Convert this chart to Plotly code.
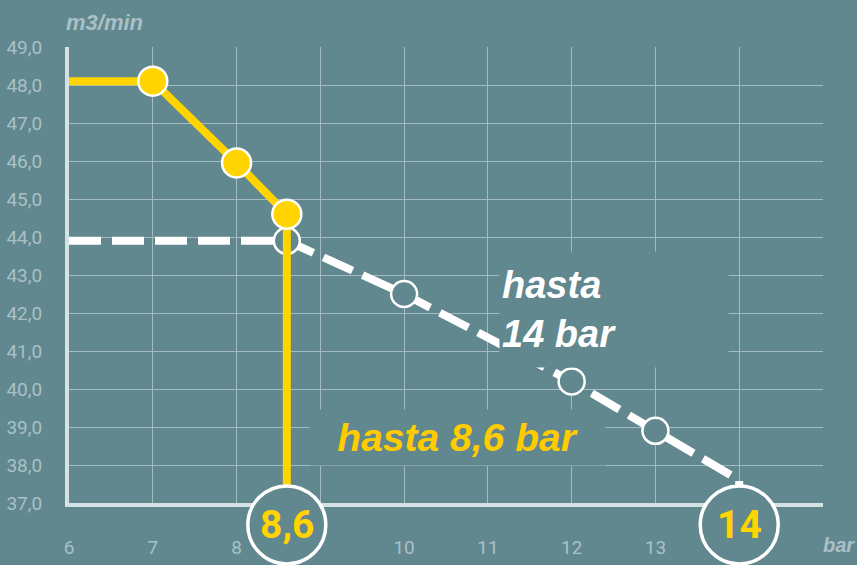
import plotly.graph_objects as go

# ---- data ----
pressure_86 = [6, 7, 8, 8.6, 8.6]
flow_86 = [48.1, 48.1, 45.95, 44.6, 37.0]

pressure_14 = [6, 8.6, 10, 12, 13, 14, 14]
flow_14 = [43.9, 43.9, 42.5, 40.2, 38.9, 37.6, 37.0]

max_pressures = [8.6, 14]
max_labels = ["8,6", "14"]

x_ticks = [6, 7, 8, 9, 10, 11, 12, 13, 14, 15]
x_tick_labels = ["6", "7", "8", "", "10", "11", "12", "13", "", ""]
y_ticks = [37, 38, 39, 40, 41, 42, 43, 44, 45, 46, 47, 48, 49]
y_tick_labels = ["37,0", "38,0", "39,0", "40,0", "41,0", "42,0", "43,0",
                 "44,0", "45,0", "46,0", "47,0", "48,0", "49,0"]

# ---- styles ----
BG = "#61878f"
YELLOW = "#ffd400"
YELLOW_TXT = "#ffcc00"
GRID = "#a3bcc1"
AXIS = "#d6e1e3"
LABEL = "#a9c1c6"
NARROW = "Roboto, Liberation Sans, sans-serif"
SANS = "Liberation Sans, Arial, sans-serif"
CIRCLE_Y_PAPER = -0.048   # vertical position of the big circles (below the axis)
CIRCLE_R = 39

fig = go.Figure()

# white dashed series (up to 14 bar)
fig.add_trace(go.Scatter(
    x=pressure_14, y=flow_14, mode="lines",
    line=dict(color="white", width=8, dash="32px,11px"),
    cliponaxis=False, hoverinfo="skip", showlegend=False))
fig.add_trace(go.Scatter(
    x=pressure_14[1:5], y=flow_14[1:5], mode="markers",
    marker=dict(size=26, color=BG, line=dict(color="white", width=2.5)),
    cliponaxis=False, hoverinfo="skip", showlegend=False))

# yellow series (up to 8,6 bar)
fig.add_trace(go.Scatter(
    x=pressure_86, y=flow_86, mode="lines",
    line=dict(color=YELLOW, width=8),
    cliponaxis=False, hoverinfo="skip", showlegend=False))
fig.add_trace(go.Scatter(
    x=pressure_86[1:4], y=flow_86[1:4], mode="markers",
    marker=dict(size=29, color=YELLOW, line=dict(color="white", width=2.5)),
    cliponaxis=False, hoverinfo="skip", showlegend=False))

# big circles marking the maximum pressures
shapes = [
    dict(type="circle", xref="x", yref="paper",
         xsizemode="pixel", ysizemode="pixel",
         xanchor=p, yanchor=CIRCLE_Y_PAPER,
         x0=-CIRCLE_R, x1=CIRCLE_R, y0=-CIRCLE_R, y1=CIRCLE_R,
         fillcolor=BG, line=dict(color="white", width=3.5), layer="above")
    for p in max_pressures
]
circle_texts = [
    dict(text=lab, xref="x", yref="paper", x=p, y=CIRCLE_Y_PAPER,
         xanchor="center", yanchor="middle", showarrow=False,
         font=dict(family=NARROW, size=39, color=YELLOW, weight="bold"))
    for p, lab in zip(max_pressures, max_labels)
]

fig.update_layout(
    width=857, height=565,
    paper_bgcolor=BG, plot_bgcolor=BG,
    margin=dict(l=69, r=34, t=47, b=62, autoexpand=False),
    showlegend=False,
    font=dict(family=NARROW, color=LABEL),
    xaxis=dict(
        range=[6, 15], tickmode="array", tickvals=x_ticks, ticktext=x_tick_labels,
        showgrid=True, gridcolor=GRID, gridwidth=1,
        showline=True, linecolor=AXIS, linewidth=4,
        zeroline=False, ticks="", ticklabelstandoff=24, automargin=False,
        tickfont=dict(family=NARROW, size=19, color=LABEL),
        layer="below traces", fixedrange=True),
    yaxis=dict(
        range=[37, 49], tickmode="array", tickvals=y_ticks, ticktext=y_tick_labels,
        showgrid=True, gridcolor=GRID, gridwidth=1,
        showline=True, linecolor=AXIS, linewidth=4,
        zeroline=False, ticks="", ticklabelstandoff=19, automargin=False,
        tickfont=dict(family=NARROW, size=19, color=LABEL),
        layer="below traces", fixedrange=True),
    shapes=shapes,
    annotations=[
        dict(text="m3/min", xref="paper", yref="paper", x=0, y=1,
             xanchor="left", yanchor="middle", xshift=-5, yshift=25,
             showarrow=False,
             font=dict(family=SANS, size=22, color=LABEL, weight="bold", style="italic")),
        dict(text="bar", xref="paper", yref="paper", x=1, y=0,
             xanchor="left", yanchor="middle", xshift=-2, yshift=-42,
             showarrow=False,
             font=dict(family=SANS, size=20, color=LABEL, weight="bold", style="italic")),
        dict(text="hasta<br>14 bar", xref="x", yref="y", x=12.51, y=42.1,
             width=224, height=111, align="left", valign="middle",
             bgcolor=BG, borderpad=2, showarrow=False,
             font=dict(family=SANS, size=38, color="white", weight="bold", style="italic")),
        dict(text="hasta 8,6 bar", xref="x", yref="y", x=10.64, y=38.72,
             width=291, height=51, align="center", valign="middle",
             bgcolor=BG, borderpad=2, showarrow=False,
             font=dict(family=SANS, size=39, color=YELLOW_TXT, weight="bold", style="italic")),
    ] + circle_texts,
)

fig.write_html("out.html", config={"displayModeBar": False},
               post_script="document.body.style.margin='0';document.body.style.padding='0';")
